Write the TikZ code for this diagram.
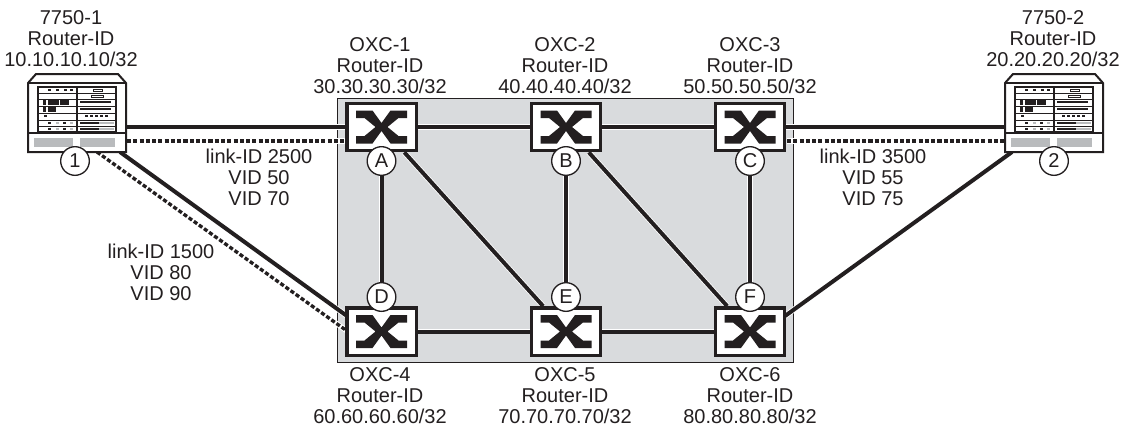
\documentclass[tikz,border=0pt]{standalone}
\usepackage{fontspec}
\setmainfont{Liberation Sans}
\usepackage{tikz}
\usetikzlibrary{arrows.meta,positioning}
\definecolor{inkblack}{HTML}{231F20}
\definecolor{cloudgray}{HTML}{D9DBDD}
\definecolor{slotgray}{HTML}{B9BBBD}

\begin{document}
\begin{tikzpicture}[
    x=0.75pt,y=-0.75pt,
    label/.style={align=center, font=\fontsize{15}{15.75}\selectfont, text=inkblack, inner sep=0pt},
    link/.style={draw=inkblack, line width=3pt, preaction={draw=white, line width=4.2pt}},
    vlan/.style={draw=inkblack, line width=2.5pt, dash pattern=on 3.1pt off 1.6pt,
      preaction={draw=white, line width=4pt, solid}},
    switch/.style={draw=inkblack, fill=white, line width=2.5pt, minimum width=52pt, minimum height=35.5pt,
      inner sep=0pt, path picture={
        \fill[inkblack, shift={(path picture bounding box.center)}]
          (-25.5,-16.5) -- (-9,-16.5) -- (0,-4) -- (9,-16.5) -- (25.5,-16.5) -- (25.5,-9) -- (17,-9) -- (6,0)
          -- (17,9) -- (25.5,9) -- (25.5,16.5) -- (9,16.5) -- (0,4) -- (-9,16.5) -- (-25.5,16.5) -- (-25.5,9)
          -- (-17,9) -- (-6,0) -- (-17,-9) -- (-25.5,-9) -- cycle;
      }},
    tag/.style={draw=inkblack, fill=white, circle, line width=1pt, minimum size=21.5pt, inner sep=0pt,
      font=\fontsize{15}{15}\selectfont, text=inkblack},
    chassis/.style={minimum width=73pt, minimum height=58.5pt, inner sep=0pt},
    router/.pic={
      \draw[inkblack, fill=white, line width=1.5pt] (-49,-30) -- (-41,-39) -- (41,-39) -- (49,-30) -- (49,39) -- (-49,39) -- cycle;
      \draw[inkblack, line width=0.8pt] (-49,-30) -- (49,-30);
      \draw[inkblack, line width=1.5pt] (-49,20) -- (49,20);
      \fill[slotgray] (-43,25) rectangle (-4,34);
      \fill[slotgray] (3,25) rectangle (38,34);
      \draw[inkblack, line width=0.8pt] (-39,-26) rectangle (39,19);
      \draw[inkblack, line width=0.8pt] (0,-26) -- (0,19);
      \foreach \rowy in {-20,-14,-7,0,7,13} {
        \draw[inkblack, line width=0.5pt] (-39,\rowy) -- (39,\rowy);
      }
      % upper rows
      \foreach \dotx in {-29,-21,-13,-7} {
        \fill[inkblack] (\dotx,-24) rectangle ++(3,2);
      }
      \draw[inkblack, line width=0.5pt] (16,-24) rectangle (25,-22);
      \draw[inkblack, line width=0.5pt] (14,-18) rectangle (26,-16);
      \fill[inkblack] (-34,-13) rectangle (-31,-8);
      \fill[inkblack] (-29,-13) rectangle (-18,-8);
      \fill[inkblack] (-17,-13) rectangle (-8,-8);
      \fill[inkblack] (3,-12) rectangle (34,-10);
      \fill[inkblack] (-34,-6) rectangle (-31,-1);
      \fill[inkblack] (-29,-6) rectangle (-21,-1);
      \fill[inkblack] (3,-5) rectangle (34,-3);
      \fill[inkblack] (-33,2) rectangle (-30,4);
      \foreach \dotx in {8,13,18,23,28} {
        \fill[inkblack] (\dotx,2) rectangle ++(3,2);
      }
      % lower rows
      \foreach \rowy in {9,15} {
        \fill[inkblack] (-29,\rowy) rectangle ++(3,2);
        \fill[slotgray] (-21,\rowy) rectangle ++(3,2);
        \fill[inkblack] (-14,\rowy) rectangle ++(3,2);
        \fill[slotgray] (-7,\rowy) rectangle ++(3,2);
        \fill[inkblack] (3,\rowy) rectangle ++(19,2);
        \fill[slotgray] (22,\rowy) rectangle ++(15,2);
      }
    }
  ]
    \useasboundingbox (0,0) rectangle (1126,433);

    \node[draw=inkblack, fill=cloudgray, line width=0.7pt, minimum width=342pt, minimum height=198pt, inner sep=0pt] (cloud) at (565,230) {};

    \node[chassis] (r1) at (77,113) {};
    \node[chassis] (r2) at (1054,113) {};
    \node[switch] (swA) at (381.5,127) {};
    \node[switch] (swB) at (566,127) {};
    \node[switch] (swC) at (750,127) {};
    \node[switch] (swD) at (381.5,331.5) {};
    \node[switch] (swE) at (566,331.5) {};
    \node[switch] (swF) at (750,331.5) {};

    % ports on the chassis and the switches
    \coordinate (r1sol) at (120,152);
    \coordinate (r1das) at (97,152);
    \coordinate (r2sol) at (1012,152);
    \coordinate (swDsol) at (347,316);
    \coordinate (swDdas) at (347,331);
    \coordinate (swFsol) at (785,316);
    \coordinate (swAdas) at (345,141);
    \coordinate (r1dash) at (127,141);
    \coordinate (swCdas) at (787,141);
    \coordinate (r2dash) at (1005,141);
    \coordinate (r1line) at (100,127);
    \coordinate (r2line) at (1030,127);

    \draw[link] (r1line) -- (swA);
    \draw[vlan] (r1dash) -- (swAdas);
    \draw[link] (swC) -- (r2line);
    \draw[vlan] (swCdas) -- (r2dash);
    \draw[link] (r1sol) -- (swDsol);
    \draw[vlan] (r1das) -- (swDdas);
    \draw[link] (swFsol) -- (r2sol);

    \draw[link] (swA) -- (swB);
    \draw[link] (swB) -- (swC);
    \draw[link] (swD) -- (swE);
    \draw[link] (swE) -- (swF);
    \draw[link] (swA) -- (swD);
    \draw[link] (swB) -- (swE);
    \draw[link] (swC) -- (swF);
    \draw[link] (swA) -- (swE);
    \draw[link] (swB) -- (swF);

    \node[switch] at (swA) {};
    \node[switch] at (swB) {};
    \node[switch] at (swC) {};
    \node[switch] at (swD) {};
    \node[switch] at (swE) {};
    \node[switch] at (swF) {};

    \pic at (r1) {router};
    \pic at (r2) {router};

    \node[tag] (t1) at (75,161) {1};
    \node[tag] (t2) at (1054,161) {2};
    \node[tag] (tA) at (381.5,161) {A};
    \node[tag] (tB) at (566,161) {B};
    \node[tag] (tC) at (750,161) {C};
    \node[tag] (tD) at (381.5,297) {D};
    \node[tag] (tE) at (566,297) {E};
    \node[tag] (tF) at (750,297) {F};

    \node[label] (l1) at (71,39) {7750-1\\Router-ID\\10.10.10.10/32};
    \node[label] (l2) at (1053,39) {7750-2\\Router-ID\\20.20.20.20/32};
    \node[label] (lA) at (380,66) {OXC-1\\Router-ID\\30.30.30.30/32};
    \node[label] (lB) at (565,66) {OXC-2\\Router-ID\\40.40.40.40/32};
    \node[label] (lC) at (750,66) {OXC-3\\Router-ID\\50.50.50.50/32};
    \node[label] (lD) at (380,396) {OXC-4\\Router-ID\\60.60.60.60/32};
    \node[label] (lE) at (565,396) {OXC-5\\Router-ID\\70.70.70.70/32};
    \node[label] (lF) at (750,396) {OXC-6\\Router-ID\\80.80.80.80/32};
    \node[label] (lk2500) at (259,177) {link-ID 2500\\VID 50\\VID 70};
    \node[label] (lk3500) at (873,177) {link-ID 3500\\VID 55\\VID 75};
    \node[label] (lk1500) at (161,272) {link-ID 1500\\VID 80\\VID 90};
\end{tikzpicture}
\end{document}
